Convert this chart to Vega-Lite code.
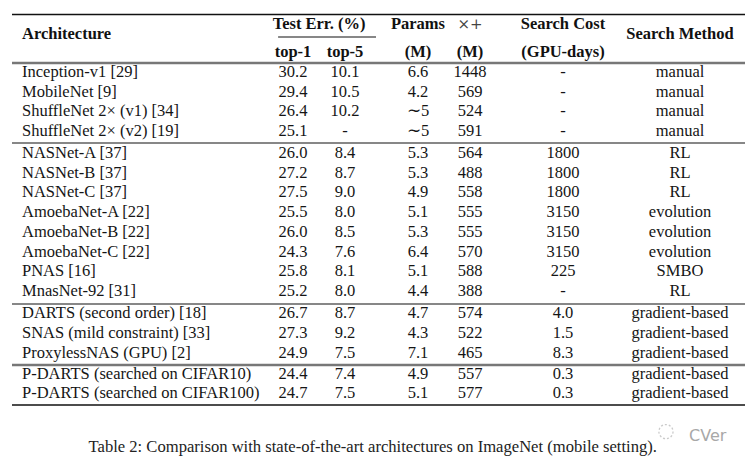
{
  "$schema": "https://vega.github.io/schema/vega-lite/v6.json",
  "width": 749,
  "height": 466,
  "autosize": {"type": "none"},
  "padding": 0,
  "background": "white",
  "config": {"view": {"stroke": null}, "axis": {"disable": true}},
  "datasets": {
    "rows": [
      {"r": 1, "arch": "Inception-v1 [29]", "top1": "30.2", "top5": "10.1", "params": "6.6", "mult": "1448", "cost": "-", "method": "manual"},
      {"r": 2, "arch": "MobileNet [9]", "top1": "29.4", "top5": "10.5", "params": "4.2", "mult": "569", "cost": "-", "method": "manual"},
      {"r": 3, "arch": "ShuffleNet 2× (v1) [34]", "top1": "26.4", "top5": "10.2", "params": "∼5", "mult": "524", "cost": "-", "method": "manual"},
      {"r": 4, "arch": "ShuffleNet 2× (v2) [19]", "top1": "25.1", "top5": "-", "params": "∼5", "mult": "591", "cost": "-", "method": "manual"},
      {"r": 5, "arch": "NASNet-A [37]", "top1": "26.0", "top5": "8.4", "params": "5.3", "mult": "564", "cost": "1800", "method": "RL"},
      {"r": 6, "arch": "NASNet-B [37]", "top1": "27.2", "top5": "8.7", "params": "5.3", "mult": "488", "cost": "1800", "method": "RL"},
      {"r": 7, "arch": "NASNet-C [37]", "top1": "27.5", "top5": "9.0", "params": "4.9", "mult": "558", "cost": "1800", "method": "RL"},
      {"r": 8, "arch": "AmoebaNet-A [22]", "top1": "25.5", "top5": "8.0", "params": "5.1", "mult": "555", "cost": "3150", "method": "evolution"},
      {"r": 9, "arch": "AmoebaNet-B [22]", "top1": "26.0", "top5": "8.5", "params": "5.3", "mult": "555", "cost": "3150", "method": "evolution"},
      {"r": 10, "arch": "AmoebaNet-C [22]", "top1": "24.3", "top5": "7.6", "params": "6.4", "mult": "570", "cost": "3150", "method": "evolution"},
      {"r": 11, "arch": "PNAS [16]", "top1": "25.8", "top5": "8.1", "params": "5.1", "mult": "588", "cost": "225", "method": "SMBO"},
      {"r": 12, "arch": "MnasNet-92 [31]", "top1": "25.2", "top5": "8.0", "params": "4.4", "mult": "388", "cost": "-", "method": "RL"},
      {"r": 13, "arch": "DARTS (second order) [18]", "top1": "26.7", "top5": "8.7", "params": "4.7", "mult": "574", "cost": "4.0", "method": "gradient-based"},
      {"r": 14, "arch": "SNAS (mild constraint) [33]", "top1": "27.3", "top5": "9.2", "params": "4.3", "mult": "522", "cost": "1.5", "method": "gradient-based"},
      {"r": 15, "arch": "ProxylessNAS (GPU) [2]", "top1": "24.9", "top5": "7.5", "params": "7.1", "mult": "465", "cost": "8.3", "method": "gradient-based"},
      {"r": 16, "arch": "P-DARTS (searched on CIFAR10)", "top1": "24.4", "top5": "7.4", "params": "4.9", "mult": "557", "cost": "0.3", "method": "gradient-based"},
      {"r": 17, "arch": "P-DARTS (searched on CIFAR100)", "top1": "24.7", "top5": "7.5", "params": "5.1", "mult": "577", "cost": "0.3", "method": "gradient-based"}
    ],
    "columns": [
      {"key": "top1", "c": 1},
      {"key": "top5", "c": 2},
      {"key": "params", "c": 3},
      {"key": "mult", "c": 4},
      {"key": "cost", "c": 5},
      {"key": "method", "c": 6}
    ],
    "headers": [
      {"t": "Test Err. (%)", "c": 1.5, "r": -1, "w": "bold"},
      {"t": "top-1", "c": 1, "r": 0, "w": "bold"},
      {"t": "top-5", "c": 2, "r": 0, "w": "bold"},
      {"t": "Params", "c": 3, "r": -1, "w": "bold"},
      {"t": "(M)", "c": 3, "r": 0, "w": "bold"},
      {"t": "(M)", "c": 4, "r": 0, "w": "bold"},
      {"t": "Search Cost", "c": 5, "r": -1, "w": "bold"},
      {"t": "(GPU-days)", "c": 5, "r": 0, "w": "bold"},
      {"t": "Search Method", "c": 6, "r": -0.643, "w": "bold"},
      {"t": "×+", "c": 4, "r": -1, "w": "math"}
    ],
    "rules": [
      {"r": -1.34, "c1": -0.5, "c2": 6.5, "k": "main"},
      {"r": -0.536, "c1": 0.945, "c2": 2.425, "k": "thin"},
      {"r": 0.5, "c1": -0.5, "c2": 6.5, "k": "gray"},
      {"r": 4.5, "c1": -0.5, "c2": 6.5, "k": "thin"},
      {"r": 12.5, "c1": -0.5, "c2": 6.5, "k": "thin"},
      {"r": 15.5, "c1": -0.5, "c2": 6.5, "k": "gray"},
      {"r": 17.5, "c1": -0.5, "c2": 6.5, "k": "main"}
    ]
  },
  "resolve": {"scale": {"x": "shared", "y": "shared"}},
  "encoding": {
    "y": {"field": "r", "type": "quantitative", "scale": {"domain": [-2, -1, 0, 0.5, 1, 4, 4.5, 5, 12, 12.5, 13, 15, 15.5, 16, 17, 17.5, 19], "range": [-4, 24, 52, 63, 72, 131, 143, 153, 291, 304, 313, 353, 365, 374, 393, 405, 447], "zero": false, "nice": false}}
  },
  "layer": [
    {
      "data": {"name": "rules"},
      "transform": [{"filter": "datum.k === 'main'"}],
      "mark": {"type": "rule", "stroke": "#111", "strokeWidth": 1.7},
      "encoding": {
        "x": {"field": "c1", "type": "quantitative", "scale": {"domain": [-1, 0, 1, 2, 3, 4, 5, 6, 7], "range": [2, 22, 293, 345, 418, 470, 563, 680, 810], "zero": false, "nice": false}},
        "x2": {"field": "c2"}
      }
    },
    {
      "data": {"name": "rules"},
      "transform": [{"filter": "datum.k === 'thin'"}],
      "mark": {"type": "rule", "stroke": "#111", "strokeWidth": 1.1},
      "encoding": {"x": {"field": "c1", "type": "quantitative"}, "x2": {"field": "c2"}}
    },
    {
      "data": {"name": "rules"},
      "transform": [{"filter": "datum.k === 'gray'"}],
      "mark": {"type": "rule", "stroke": "#777", "strokeWidth": 2.4},
      "encoding": {"x": {"field": "c1", "type": "quantitative"}, "x2": {"field": "c2"}}
    },
    {
      "data": {"name": "rows"},
      "mark": {"type": "text", "align": "left", "baseline": "middle", "font": "Liberation Serif", "fontSize": 16.5, "color": "#151515"},
      "encoding": {
        "x": {"datum": 0, "type": "quantitative"},
        "text": {"field": "arch"}
      }
    },
    {
      "data": {"name": "rows"},
      "transform": [
        {"fold": ["top1", "top5", "params", "mult", "cost", "method"], "as": ["key", "val"]},
        {"lookup": "key", "from": {"data": {"name": "columns"}, "key": "key", "fields": ["c"]}}
      ],
      "mark": {"type": "text", "align": "center", "baseline": "middle", "font": "Liberation Serif", "fontSize": 16.5, "color": "#151515"},
      "encoding": {
        "x": {"field": "c", "type": "quantitative"},
        "text": {"field": "val"}
      }
    },
    {
      "data": {"name": "headers"},
      "transform": [{"filter": "datum.w === 'bold'"}],
      "mark": {"type": "text", "align": "center", "baseline": "middle", "font": "Liberation Serif", "fontSize": 16.5, "fontWeight": "bold", "color": "#111"},
      "encoding": {
        "x": {"field": "c", "type": "quantitative"},
        "text": {"field": "t"}
      }
    },
    {
      "data": {"name": "headers"},
      "transform": [{"filter": "datum.w === 'math'"}],
      "mark": {"type": "text", "align": "center", "baseline": "middle", "font": "DejaVu Serif", "fontSize": 15, "color": "#444"},
      "encoding": {
        "x": {"field": "c", "type": "quantitative"},
        "text": {"field": "t"}
      }
    },
    {
      "data": {"values": [{"t": "Architecture", "c": 0, "r": -0.643}]},
      "mark": {"type": "text", "align": "left", "baseline": "middle", "font": "Liberation Serif", "fontSize": 16.5, "fontWeight": "bold", "color": "#111"},
      "encoding": {
        "x": {"field": "c", "type": "quantitative"},
        "text": {"field": "t"}
      }
    },
    {
      "data": {"values": [{"t": "Table 2: Comparison with state-of-the-art architectures on ImageNet (mobile setting).", "c": 2.38, "r": 19}]},
      "mark": {"type": "text", "align": "center", "baseline": "middle", "font": "Liberation Serif", "fontSize": 16.6, "color": "#222"},
      "encoding": {
        "x": {"field": "c", "type": "quantitative"},
        "text": {"field": "t"}
      }
    },
    {
      "data": {"values": [{"t": "CVer", "c": 6.07, "r": 18.62}]},
      "mark": {"type": "text", "align": "left", "baseline": "middle", "font": "DejaVu Sans", "fontSize": 16, "color": "#a8a8a8"},
      "encoding": {
        "x": {"field": "c", "type": "quantitative"},
        "text": {"field": "t"}
      }
    },
    {
      "data": {"values": [{"c": 5.88, "r": 18.45}]},
      "mark": {"type": "point", "shape": "circle", "size": 200, "filled": false, "stroke": "#b5b5b5", "strokeWidth": 1.3, "strokeDash": [2, 2]},
      "encoding": {
        "x": {"field": "c", "type": "quantitative"}
      }
    }
  ]
}
